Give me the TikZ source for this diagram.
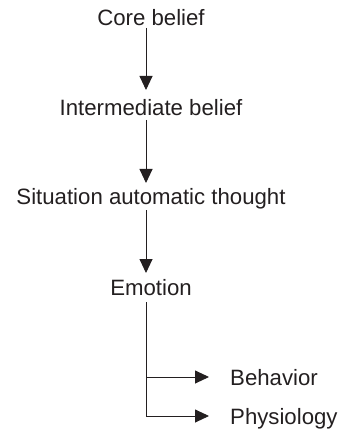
\documentclass[tikz,border=0pt]{standalone}
\usepackage{fontspec}
\setmainfont{Liberation Sans}
\usetikzlibrary{arrows.meta}
\definecolor{ink}{HTML}{231F20}
\begin{document}
\begin{tikzpicture}[x=1pt,y=-1pt,
  lbl/.style={font=\fontsize{22.2}{25}\selectfont, text=ink, inner sep=0pt},
  conn/.style={draw=ink, line width=0.9pt},
  arr/.style={conn, -{Triangle[length=14pt,width=13pt]}}]
\useasboundingbox (0,0) rectangle (337,435);
\node[lbl, anchor=base] (core) at (151,26) {Core belief};
\node[lbl, anchor=base] (inter) at (151,116) {Intermediate belief};
\node[lbl, anchor=base] (sit) at (151,204.5) {Situation automatic thought};
\node[lbl, anchor=base] (emo) at (151,295.5) {Emotion};
\node[lbl, anchor=base west] (beh) at (230,385) {Behavior};
\node[lbl, anchor=base west] (phy) at (230,424.5) {Physiology};
\coordinate (c1) at (146,28);
\coordinate (t1) at (146,90);
\coordinate (c2) at (146,120);
\coordinate (t2) at (146,183);
\coordinate (c3) at (146,210);
\coordinate (t3) at (146,273);
\coordinate (e0) at (146,302);
\coordinate (b0) at (146,377);
\coordinate (p0) at (146,416);
\coordinate (bt) at (209,377);
\coordinate (pt) at (209,416);
\draw[arr] (c1) -- (t1);
\draw[arr] (c2) -- (t2);
\draw[arr] (c3) -- (t3);
\draw[conn] (e0) -- (p0);
\draw[arr] (b0) -- (bt);
\draw[arr] (p0) -- (pt);
\end{tikzpicture}
\end{document}
